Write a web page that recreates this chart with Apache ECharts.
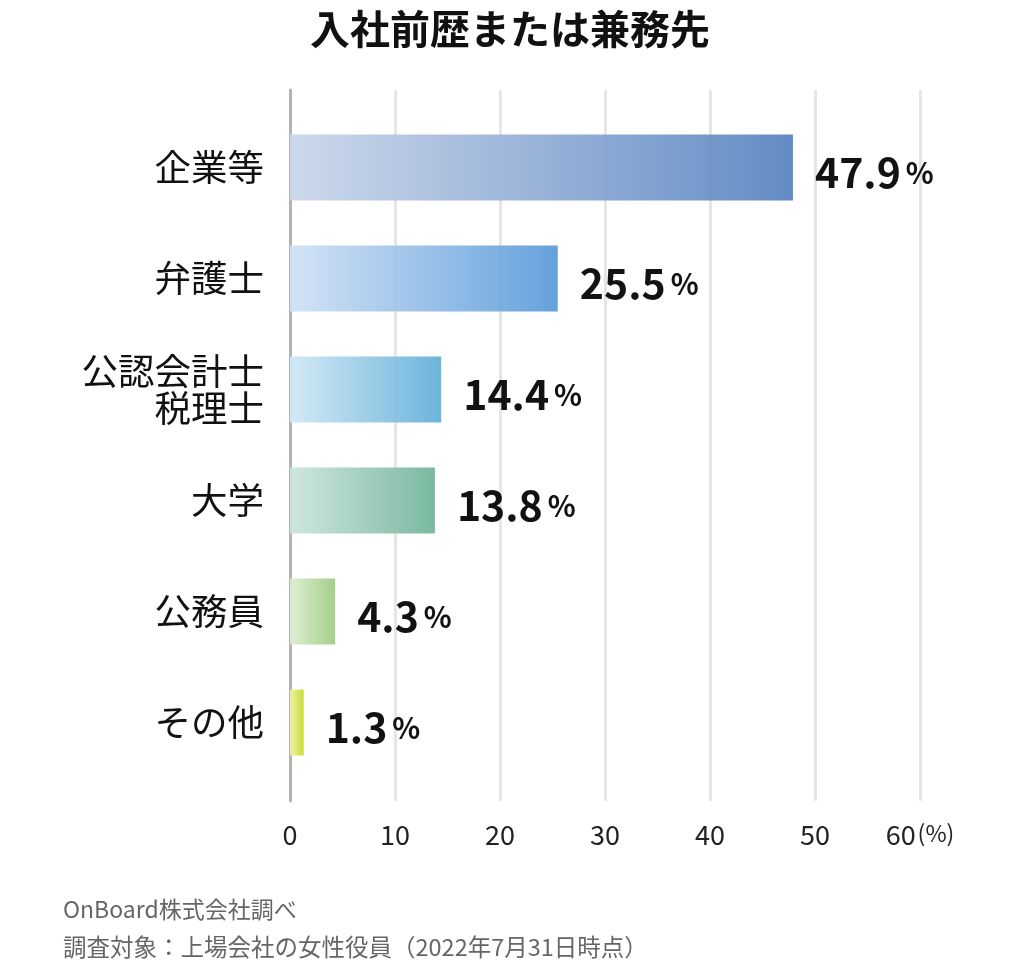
<!DOCTYPE html>
<html>
<head>
<meta charset="utf-8">
<script src="https://cdn.jsdelivr.net/npm/echarts@6/dist/echarts.min.js"></script>
<style>
html,body{margin:0;padding:0;background:#fff;}
#main{width:1020px;height:962px;}
</style>
</head>
<body>
<div id="main"></div>
<script>
// ---- data ----
const categories = ['企業等', '弁護士', '公認会計士\n税理士', '大学', '公務員', 'その他'];
const values = [47.9, 25.5, 14.4, 13.8, 4.3, 1.3];
const xTicks = [0, 10, 20, 30, 40, 50, 60];
const titleText = '入社前歴または兼務先';
const sourceLine1 = 'OnBoard株式会社調べ';
const sourceLine2 = '調査対象：上場会社の女性役員（2022年7月31日時点）';
const unitLabel = '(%)';

// ---- styles ----
const gradStart = ['#c9d6ea', '#cfe1f5', '#cfe8f5', '#cbe5da', '#dcedcf', '#eef3a0'];
const gradEnd   = ['#5883c0', '#5a9ad9', '#62aed8', '#70b49a', '#9ecb80', '#c6d628'];
const FONT = '"Noto Sans CJK JP", "Noto Sans", sans-serif';

const chart = echarts.init(document.getElementById('main'), null, {renderer: 'canvas'});

const barData = values.map((v, i) => ({
  value: v,
  itemStyle: {
    color: new echarts.graphic.LinearGradient(0, 0, 1, 0, [
      {offset: 0, color: gradStart[i]},
      {offset: 1, color: gradEnd[i]}
    ]),
    opacity: 0.93
  }
}));

const option = {
  backgroundColor: '#fff',
  animation: false,
  title: [
    {text: titleText, left: 'center', top: 4,
     textStyle: {fontFamily: FONT, fontSize: 40, fontWeight: 'bold', color: '#111'}},
    {text: sourceLine1, left: 58, top: 893,
     textStyle: {fontFamily: FONT, fontSize: 23, fontWeight: 'normal', color: '#666'}},
    {text: sourceLine2, left: 58, top: 930,
     textStyle: {fontFamily: FONT, fontSize: 23.5, fontWeight: 'normal', color: '#666'}}
  ],
  grid: [
    {left: 290, right: 100, top: 112, bottom: 184},
    {left: 290, right: 100, top: 90, bottom: 161}
  ],
  xAxis: [
    {gridIndex: 0, type: 'value', min: 0, max: 60, show: false},
    {gridIndex: 1, type: 'value', min: 0, max: 60, interval: 10,
     axisLine: {show: false}, axisTick: {show: false},
     splitLine: {show: true, lineStyle: {color: '#e6e6e6', width: 3}},
     axisLabel: {
       margin: 20, fontFamily: FONT, fontSize: 27, color: '#222',
       formatter: function (v) {
         return v === xTicks[xTicks.length - 1] ? '{a|' + v + '}{b|' + unitLabel + '}' : String(v);
       },
       rich: {
         a: {fontFamily: FONT, fontSize: 27, color: '#222'},
         b: {fontFamily: FONT, fontSize: 23, color: '#222', padding: [0, 0, 3, 2]}
       }
     }}
  ],
  yAxis: [
    {gridIndex: 0, type: 'category', data: categories, inverse: true,
     axisLine: {show: false}, axisTick: {show: false},
     axisLabel: {margin: 26, fontFamily: FONT, fontSize: 36.5, lineHeight: 37, color: '#111', align: 'right'}},
    {gridIndex: 1, type: 'category', data: categories, inverse: true,
     axisLine: {show: true, lineStyle: {color: '#b3b3b3', width: 3}},
     axisTick: {show: false}, axisLabel: {show: false}, splitLine: {show: false}}
  ],
  series: [{
    type: 'bar',
    xAxisIndex: 0, yAxisIndex: 0,
    data: barData,
    barWidth: 66,
    z: 5,
    label: {
      show: true, position: 'right', distance: 22, offset: [0, 5],
      formatter: function (p) { return '{n|' + p.value.toFixed(1) + '}{p|%}'; },
      rich: {
        n: {fontFamily: FONT, fontSize: 41, fontWeight: 'bold', color: '#000'},
        p: {fontFamily: FONT, fontSize: 29, fontWeight: 'bold', color: '#000', padding: [0, 0, 0, 5]}
      }
    }
  }]
};
chart.setOption(option);
</script>
</body>
</html>
